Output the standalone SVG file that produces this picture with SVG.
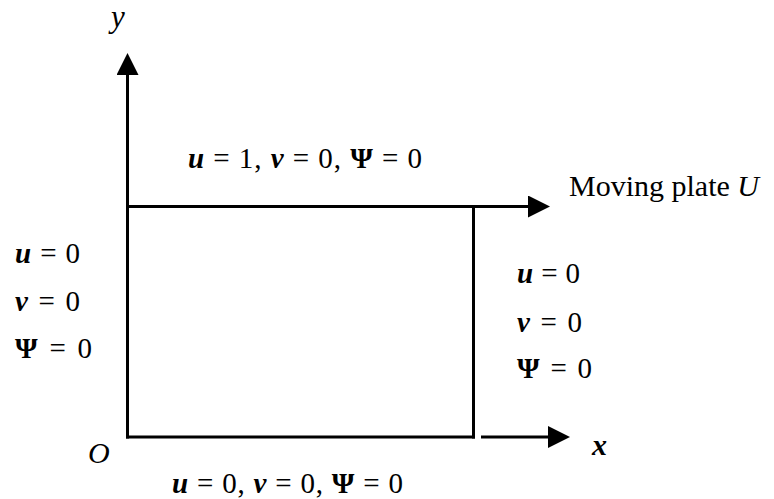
<svg xmlns="http://www.w3.org/2000/svg" width="774" height="499" viewBox="0 0 774 499">
  <style>
    .ln { stroke: #000; stroke-width: 3; fill: none; }
    text { font-family: "Liberation Serif", "Times New Roman", serif; fill: #000; }
    .m { font-size: 29px; }
    .var { font-weight: bold; font-style: italic; }
    .gr { font-weight: bold; }
    .it { font-style: italic; }
  </style>
  <defs>
    <marker id="arr" viewBox="0 0 22 22" refX="10" refY="11" markerWidth="22" markerHeight="22" markerUnits="userSpaceOnUse" orient="auto">
      <path d="M0,0 L22,11 L0,22 z" fill="#000"/>
    </marker>
  </defs>

  <g id="connectors">
    <line id="y-axis" class="ln" x1="127.5" y1="438.5" x2="127.5" y2="65" marker-end="url(#arr)"/>
    <line id="moving-plate" class="ln" x1="126" y1="206.5" x2="538" y2="206.5" marker-end="url(#arr)"/>
    <line id="x-axis" class="ln" x1="481" y1="437" x2="558" y2="437" marker-end="url(#arr)"/>
  </g>

  <g id="cavity">
    <line class="ln" x1="126" y1="437" x2="475" y2="437"/>
    <line class="ln" x1="473.5" y1="206.5" x2="473.5" y2="438.5"/>
  </g>

  <g id="axis-labels">
    <text x="111" y="27" font-size="31" class="it">y</text>
    <text x="88" y="463" font-size="30" class="it">O</text>
    <text x="592" y="455" font-size="30" class="var">x</text>
  </g>

  <g id="top-label">
    <text class="m" x="188" y="168" textLength="234" lengthAdjust="spacing"><tspan class="var">u</tspan> = 1, <tspan class="var">v</tspan> = 0, <tspan class="gr">Ψ</tspan> = 0</text>
  </g>

  <g id="plate-label">
    <text x="569" y="196" font-size="30">Moving plate <tspan class="it">U</tspan></text>
  </g>

  <g id="left-label">
    <text class="m" x="15" y="263" textLength="65" lengthAdjust="spacing"><tspan class="var">u</tspan> = 0</text>
    <text class="m" x="15" y="311" textLength="65" lengthAdjust="spacing"><tspan class="var">v</tspan> = 0</text>
    <text class="m" x="15" y="358" textLength="77" lengthAdjust="spacing"><tspan class="gr">Ψ</tspan> = 0</text>
  </g>

  <g id="right-label">
    <text class="m" x="517" y="283" textLength="63" lengthAdjust="spacing"><tspan class="var">u</tspan> = 0</text>
    <text class="m" x="517" y="332" textLength="65" lengthAdjust="spacing"><tspan class="var">v</tspan> = 0</text>
    <text class="m" x="517" y="378" textLength="75" lengthAdjust="spacing"><tspan class="gr">Ψ</tspan> = 0</text>
  </g>

  <g id="bottom-label">
    <text class="m" x="172" y="493" textLength="231" lengthAdjust="spacing"><tspan class="var">u</tspan> = 0, <tspan class="var">v</tspan> = 0, <tspan class="gr">Ψ</tspan> = 0</text>
  </g>
</svg>
